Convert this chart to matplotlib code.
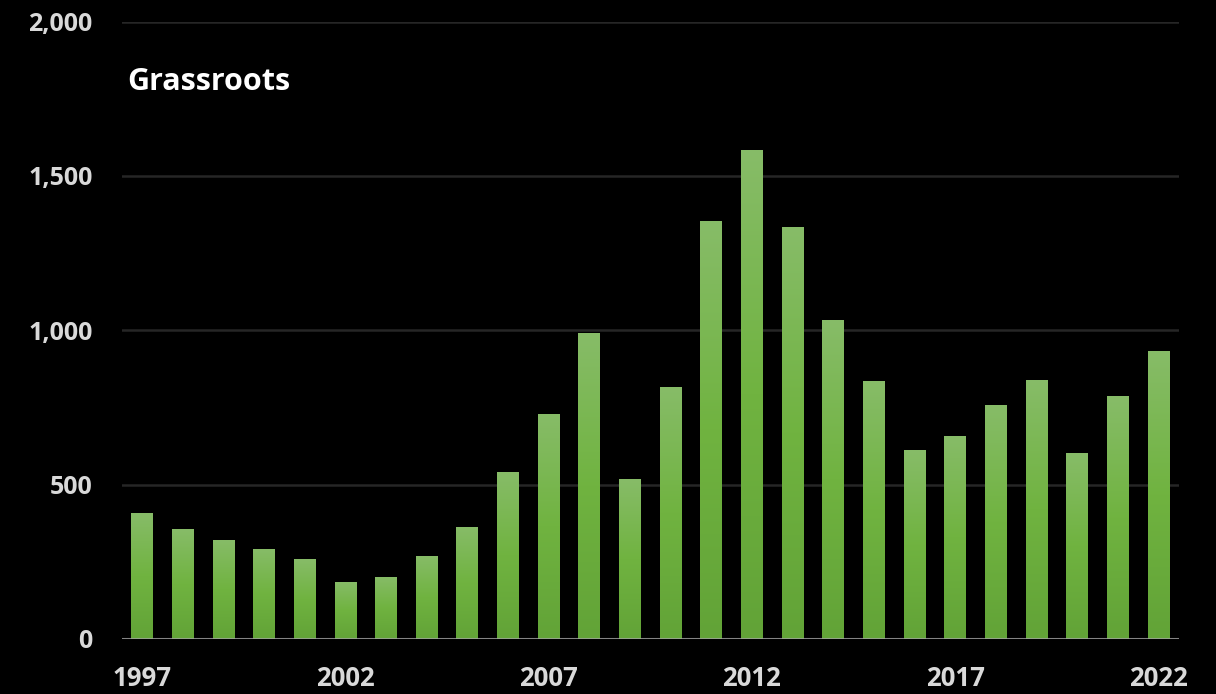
import numpy as np
import matplotlib
matplotlib.use("Agg")
import matplotlib.pyplot as plt
from matplotlib.colors import LinearSegmentedColormap

# Grassroots counts per year
years = list(range(1997, 2023))
values = [408, 356, 321, 292, 259, 185, 201, 269, 363, 541, 729, 992, 518,
          817, 1355, 1585, 1335, 1034, 836, 612, 658, 758, 839, 603, 787, 933]
year_ticks = [1997, 2002, 2007, 2012, 2017, 2022]
y_ticks = [0, 500, 1000, 1500, 2000]

plt.rcParams["font.family"] = ["Open Sans", "DejaVu Sans"]

fig = plt.figure(figsize=(12.16, 6.94), dpi=100, facecolor="black")
ax = fig.add_axes([0.1001, 0.0793, 0.8692, 0.8897])
ax.set_facecolor("black")

x = np.arange(len(years))
bars = ax.bar(x, values, width=0.53, color="#70b23f", zorder=2)

# vertical gradient inside each bar: lighter at the top, darker at the bottom
grad = LinearSegmentedColormap.from_list("g", ["#62a337", "#70b340", "#87bc68"])
ramp = np.linspace(0, 1, 256).reshape(-1, 1)
for b in bars:
    x0, w, h = b.get_x(), b.get_width(), b.get_height()
    im = ax.imshow(ramp, cmap=grad, aspect="auto", origin="lower",
                   extent=[x0, x0 + w, 0, h], zorder=3)
    im.set_clip_path(b)

ax.set_xlim(-0.5, len(years) - 0.5)
ax.set_ylim(0, 2000)

ax.set_yticks(y_ticks)
ax.set_yticklabels([f"{v:,}" for v in y_ticks], fontweight="bold")
ax.set_xticks([years.index(y) for y in year_ticks])
ax.set_xticklabels([str(y) for y in year_ticks], fontweight="bold")
ax.tick_params(axis="both", length=0, colors="#d9d9d9")
ax.tick_params(axis="y", pad=21, labelsize=18)
ax.tick_params(axis="x", pad=19, labelsize=18.5)

ax.grid(axis="y", color="#262626", linewidth=1.8, zorder=0)
ax.set_axisbelow(True)
for s in ["top", "right", "left", "bottom"]:
    ax.spines[s].set_visible(False)
ax.axhline(0, color="#a6a6a6", alpha=0.75, linewidth=2.2, zorder=5)

ax.text(0.005, 1805, "Grassroots", color="white", fontsize=22,
        fontweight="bold", va="center", ha="left",
        transform=ax.get_yaxis_transform())

fig.savefig("out.png", dpi=100, facecolor="black")
